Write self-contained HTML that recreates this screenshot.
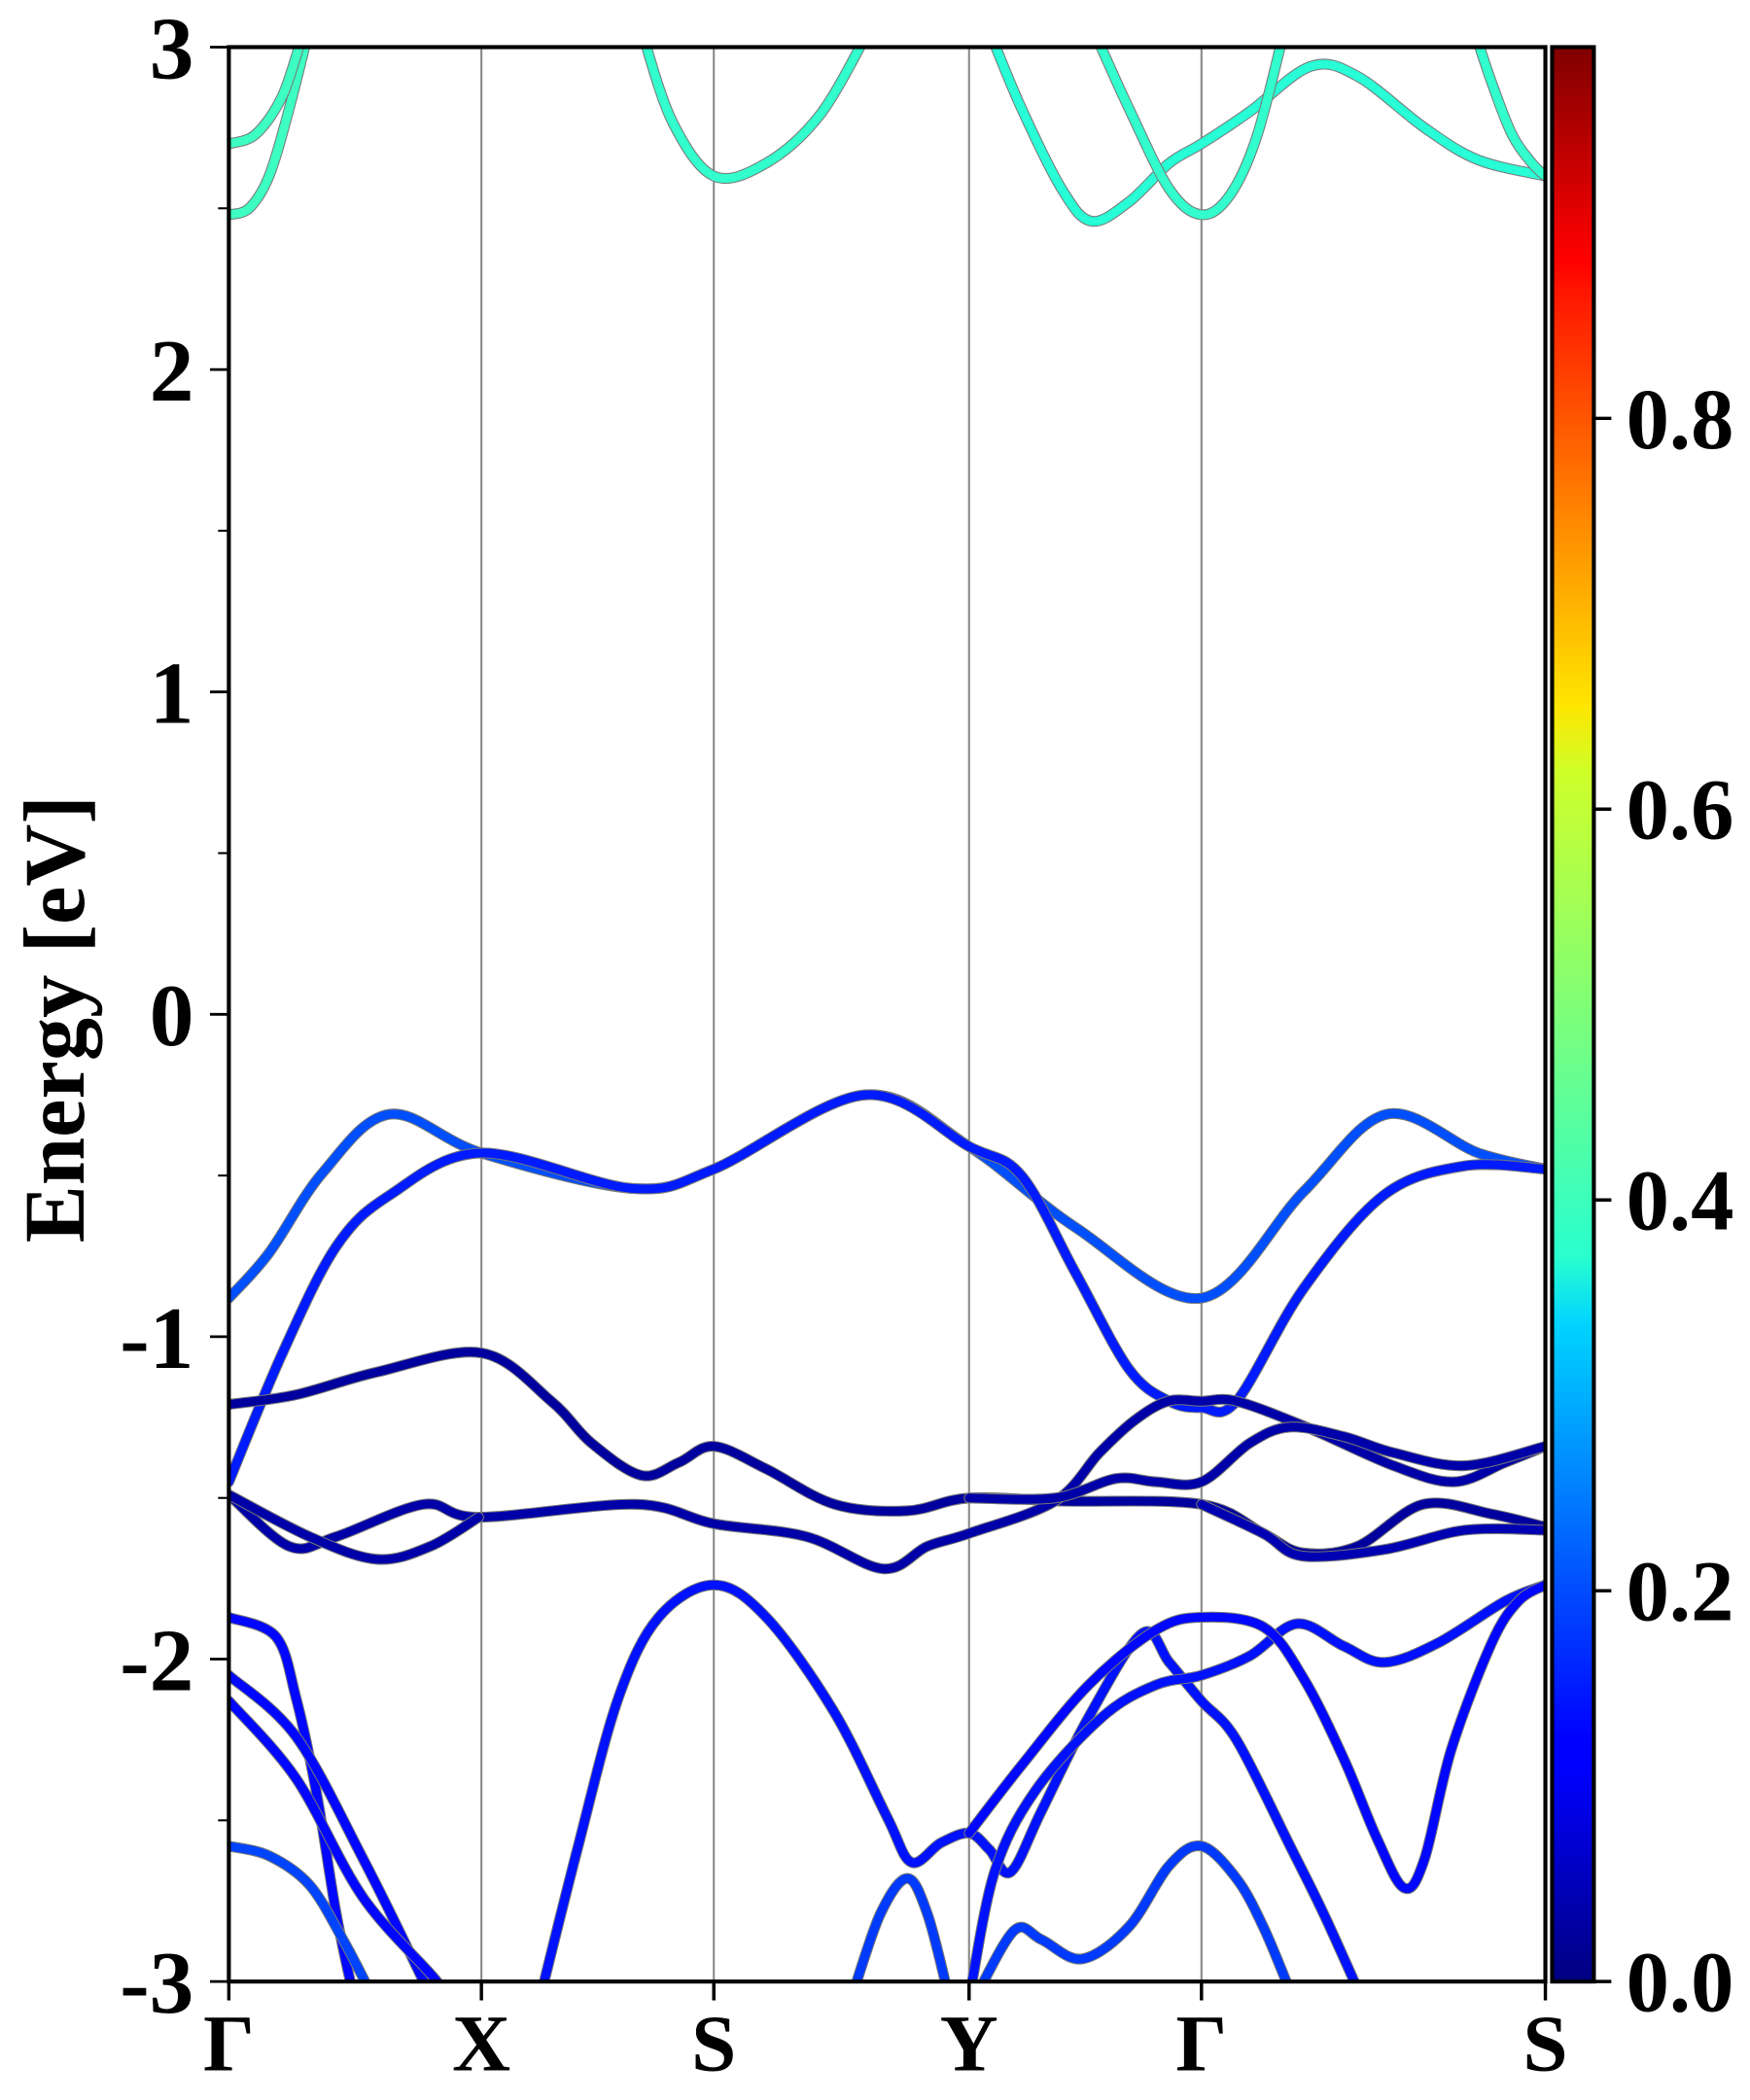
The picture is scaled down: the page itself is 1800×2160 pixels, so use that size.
<!DOCTYPE html>
<html><head><meta charset="utf-8"><style>
html,body{margin:0;padding:0;background:#fff;}
svg{display:block;}
text{font-family:"Liberation Serif",serif;font-weight:bold;fill:#000;}
</style></head><body>
<svg id="chart" width="1800" height="2160" viewBox="0 0 1300 1560" xmlns="http://www.w3.org/2000/svg">
<defs>
<clipPath id="plotclip"><rect x="170" y="35" width="978" height="1437"/></clipPath>
<linearGradient id="jet" x1="0" y1="1" x2="0" y2="0">
<stop offset="0" stop-color="#000080"/><stop offset="0.11" stop-color="#0000ff"/><stop offset="0.125" stop-color="#0000ff"/>
<stop offset="0.34" stop-color="#00d4ff"/><stop offset="0.375" stop-color="#29ffce"/><stop offset="0.5" stop-color="#7dff7a"/>
<stop offset="0.625" stop-color="#ceff29"/><stop offset="0.66" stop-color="#ffe500"/><stop offset="0.875" stop-color="#ff1400"/>
<stop offset="0.89" stop-color="#ff0000"/><stop offset="1" stop-color="#800000"/>
</linearGradient>
</defs>
<g id="grid"></g>
<g id="bands" clip-path="url(#plotclip)"></g>
<rect x="170" y="35" width="978" height="1437" fill="none" stroke="#000" stroke-width="3"/>
<g id="axes"></g>
<rect x="1153" y="35" width="31" height="1437" fill="url(#jet)" stroke="#000" stroke-width="3"/>
<g id="cbaxis"></g>
<text transform="translate(62,757) rotate(-90)" text-anchor="middle" font-size="64">Energy [eV]</text>
</svg>
<script>
const kTicks = [0, 188, 361, 551, 724, 980];
const kLabels = ["Γ", "X", "S", "Y", "Γ", "S"];
const eTicks = [-3, -2, -1, 0, 1, 2, 3];
const eMinor = [-2.5, -1.5, -0.5, 0.5, 1.5, 2.5];
const cbTicks = [0.0, 0.2, 0.4, 0.6, 0.8];
const cbMax = 0.99;

const bandNames = ["c1","c2","c3","c4","c5","c6","v1","v2","d1","d2","d3a","d3b","d3c","l1","l2","l3","l4","l5","l6","l7","l9","l10"];
const bandK = [
[0,15,30,45,60],
[0,20,40,55],
[308,330,361,400,440,475],
[567,590,620,642,670,700,724,760,805,840,890,930,980],
[645,670,700,724,745,765,785],
[928,940,955,970,980],
[0,30,70,120,188,300,361,473,551,630,724,800,862,930,980],
[0,40,80,120,188,300,361,473,551,590,630,670,700,724,750,800,860,920,980],
[0,50,110,188,240,270,307,335,361,400,451,505,551,620,724,770,799,840,889,940,980],
[0,45,80,145,186,303,361,430,487,520,551,615,648,674,699,724,750,802,867,912,950,980],
[0,60,110,150,186],
[551,615,660,690,724,760,790,830,867,920,980],
[724,770,799,860,920,980],
[0,35,50,65,80,92],
[0,50,100,145,152],
[0,50,100,155,162],
[0,30,60,85,105],
[230,260,290,320,361,400,450,490,508,530,551,566,582,605,640,680,700,724,750,790,815,842],
[558,585,605,635,670,700,724,750,770,790],
[552,570,600,650,690,724,760,795,830,860,900,950,980],
[551,590,640,690,724,770,800,830,855,875,890,910,940,960,980],
[465,485,505,520,535]
];
const bandE = [
[2.48,2.50,2.60,2.81,3.06],
[2.70,2.73,2.85,3.04],
[3.04,2.77,2.60,2.64,2.79,3.04],
[3.04,2.81,2.56,2.46,2.52,2.64,2.70,2.80,2.94,2.91,2.75,2.65,2.60],
[3.04,2.81,2.56,2.48,2.54,2.72,3.04],
[3.04,2.89,2.73,2.64,2.60],
[-0.88,-0.74,-0.49,-0.31,-0.43,-0.54,-0.48,-0.25,-0.41,-0.66,-0.88,-0.55,-0.31,-0.43,-0.48],
[-1.45,-1.05,-0.72,-0.56,-0.43,-0.54,-0.48,-0.25,-0.41,-0.50,-0.80,-1.10,-1.20,-1.22,-1.20,-0.85,-0.56,-0.47,-0.48],
[-1.21,-1.18,-1.11,-1.05,-1.20,-1.33,-1.43,-1.39,-1.34,-1.41,-1.52,-1.54,-1.50,-1.51,-1.52,-1.61,-1.67,-1.65,-1.52,-1.55,-1.59],
[-1.49,-1.65,-1.62,-1.52,-1.56,-1.52,-1.58,-1.62,-1.72,-1.65,-1.61,-1.51,-1.36,-1.26,-1.20,-1.20,-1.20,-1.28,-1.40,-1.45,-1.39,-1.34],
[-1.49,-1.62,-1.69,-1.65,-1.56],
[-1.50,-1.50,-1.44,-1.45,-1.45,-1.33,-1.28,-1.31,-1.36,-1.40,-1.34],
[-1.52,-1.61,-1.68,-1.66,-1.60,-1.60],
[-1.87,-1.93,-2.12,-2.41,-2.79,-3.03],
[-2.05,-2.24,-2.62,-3.0,-3.07],
[-2.13,-2.37,-2.74,-3.0,-3.07],
[-2.58,-2.61,-2.70,-2.87,-3.03],
[-3.08,-2.58,-2.12,-1.87,-1.77,-1.87,-2.16,-2.49,-2.63,-2.57,-2.54,-2.59,-2.66,-2.47,-2.18,-1.92,-2.01,-2.13,-2.25,-2.58,-2.79,-3.04],
[-3.03,-2.84,-2.87,-2.93,-2.83,-2.64,-2.58,-2.68,-2.83,-3.03],
[-3.03,-2.66,-2.41,-2.18,-2.08,-2.05,-1.99,-1.89,-1.96,-2.01,-1.95,-1.82,-1.77],
[-2.54,-2.33,-2.08,-1.91,-1.87,-1.90,-2.06,-2.31,-2.56,-2.71,-2.62,-2.28,-1.95,-1.82,-1.77],
[-3.03,-2.79,-2.68,-2.79,-3.03]
];
const bandWeight = [0.43,0.43,0.42,0.41,0.42,0.42,0.20,0.15,0.03,0.04,0.04,0.04,0.05,0.13,0.13,0.13,0.19,0.14,0.18,0.14,0.13,0.18];

const X0 = 170, X1 = 1148, Y0 = 35, Y1 = 1472;
function xs(k){ return X0 + (k - kTicks[0]) / (kTicks[kTicks.length-1] - kTicks[0]) * (X1 - X0); }
function ys(e){ return Y1 - (e + 3) / 6 * (Y1 - Y0); }
function cbY(v){ return Y1 - v / cbMax * (Y1 - Y0); }
function jet(v){
  const x = Math.max(0, Math.min(1, v / cbMax));
  const c = t => Math.round(255 * Math.max(0, Math.min(1, t)));
  return `rgb(${c(1.5-Math.abs(4*x-3))},${c(1.5-Math.abs(4*x-2))},${c(1.5-Math.abs(4*x-1))})`;
}
const NS = "http://www.w3.org/2000/svg";
function mk(tag, attrs, parent){ const el = document.createElementNS(NS, tag); for (const a in attrs) el.setAttribute(a, attrs[a]); parent.appendChild(el); return el; }

const grid = document.getElementById("grid");
const axes = document.getElementById("axes");
kTicks.forEach((k, i) => {
  const x = xs(k);
  if (i > 0 && i < kTicks.length - 1) {
    const ln = mk("line", {x1:x, x2:x, y1:Y0, y2:Y1, stroke:"#888", "stroke-width":1.5}, grid);
    
    
  }
  const t = mk("line", {x1:x, x2:x, y1:Y1, y2:Y1+14, stroke:"#000", "stroke-width":2.5}, axes);
  
  
  const lb = mk("text", {x:x, y:1538, "text-anchor":"middle", "font-size":60}, axes);
  lb.textContent = kLabels[i];
  
  
});
eTicks.forEach(e => {
  const y = ys(e);
  const t = mk("line", {x1:X0-14, x2:X0, y1:y, y2:y, stroke:"#000", "stroke-width":2}, axes);
  
  
  const lb = mk("text", {x:144, y:y+23, "text-anchor":"end", "font-size":66}, axes);
  lb.textContent = String(e);
  
  
});
eMinor.forEach(e => {
  const y = ys(e);
  const t = mk("line", {x1:X0-8, x2:X0, y1:y, y2:y, stroke:"#000", "stroke-width":1.5}, axes);
  
  
});

const cb = document.getElementById("cbaxis");
cbTicks.forEach(v => {
  const y = cbY(v);
  const t = mk("line", {x1:1184, x2:1197, y1:y, y2:y, stroke:"#000", "stroke-width":2.5}, cb);
  
  
  const lb = mk("text", {x:1208, y:y+22, "font-size":64}, cb);
  lb.textContent = v.toFixed(1);
  
  
});

function smoothPath(pts){
  let d = `M${pts[0][0].toFixed(1)},${pts[0][1].toFixed(1)}`;
  for (let i = 0; i < pts.length - 1; i++) {
    const p0 = pts[Math.max(0,i-1)], p1 = pts[i], p2 = pts[i+1], p3 = pts[Math.min(pts.length-1,i+2)];
    const c1 = [p1[0] + (p2[0]-p0[0])/6, p1[1] + (p2[1]-p0[1])/6];
    const c2 = [p2[0] - (p3[0]-p1[0])/6, p2[1] - (p3[1]-p1[1])/6];
    d += ` C${c1[0].toFixed(1)},${c1[1].toFixed(1)} ${c2[0].toFixed(1)},${c2[1].toFixed(1)} ${p2[0].toFixed(1)},${p2[1].toFixed(1)}`;
  }
  return d;
}
const bandsG = document.getElementById("bands");
bandK.forEach((ks, b) => {
  const pts = ks.map((k, i) => [xs(k), ys(bandE[b][i])]);
  const d = smoothPath(pts);
  const edge = mk("path", {d:d, fill:"none", stroke:"#777", "stroke-width":8, "stroke-linecap":"round"}, bandsG);
  
  
  const p = mk("path", {d:d, fill:"none", stroke:jet(bandWeight[b]), "stroke-width":6.5, "stroke-linecap":"round"}, bandsG);
  
  
});
</script>
</body></html>
